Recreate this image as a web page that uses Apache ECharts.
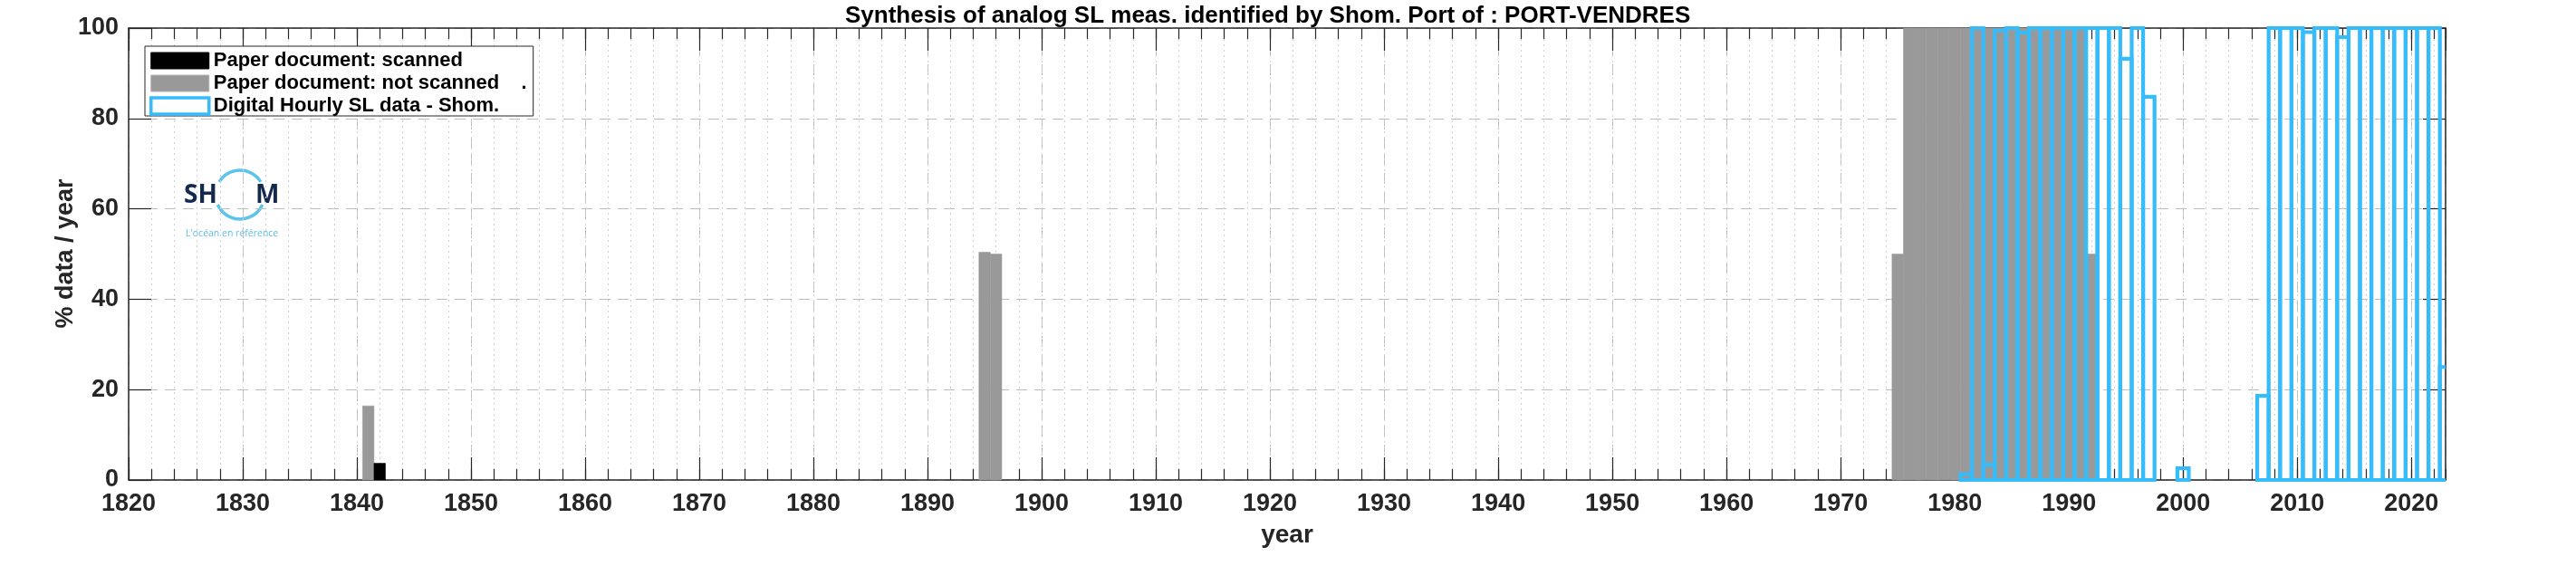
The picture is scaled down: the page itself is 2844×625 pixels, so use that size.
<!DOCTYPE html>
<html>
<head>
<meta charset="utf-8">
<script src="https://cdn.jsdelivr.net/npm/echarts@6/dist/echarts.min.js"></script>
<style>html,body{margin:0;padding:0;background:#fff}#c{width:2844px;height:625px}</style>
</head>
<body>
<div id="c"></div>
<script>
// ---------------- data ----------------
const titleText = 'Synthesis of analog SL meas. identified by Shom. Port of : PORT-VENDRES';
const xAxisName = 'year';
const yAxisName = '% data / year';
const xMin = 1820, xMax = 2023;
const yTicks = [0, 20, 40, 60, 80, 100];

const scannedYears  = [1842];
const scannedValues = [3.7];

const notScannedYears  = [1841, 1895, 1896, 1975, 1976, 1977, 1978, 1979, 1980, 1981, 1982, 1983,
                          1984, 1985, 1986, 1987, 1988, 1989, 1990, 1991, 1992];
const notScannedValues = [16.4, 50.4, 50, 50, 100, 100, 100, 100, 100, 100, 100, 100,
                          100, 100, 100, 100, 100, 100, 100, 100, 50];

const digitalYears  = [1981, 1982, 1983, 1984, 1985, 1986, 1987, 1988, 1989, 1990, 1991, 1992,
                       1993, 1994, 1995, 1996, 1997, 2000, 2007, 2008, 2009, 2010, 2011, 2012,
                       2013, 2014, 2015, 2016, 2017, 2018, 2019, 2020, 2021, 2022, 2023];
const digitalValues = [1.3, 100, 3.4, 99.5, 100, 99, 100, 100, 100, 100, 100, 100,
                       100, 100, 93.2, 100, 84.8, 2.6, 18.6, 100, 100, 100, 99.1, 100,
                       100, 98, 100, 100, 100, 100, 100, 100, 100, 100, 25];

const seriesNames = ['Paper document: scanned', 'Paper document: not scanned    .', 'Digital Hourly SL data - Shom.'];

// ---------------- styles ----------------
const FONT = '"Liberation Sans", Arial, Helvetica, sans-serif';
const AX = '#262626';
const BLUE = '#36bcfb';
const GRAY = '#999999';

function filledBar(fill) {
  return function (params, api) {
    const x = api.value(0), v = api.value(1);
    const a = api.coord([x - 0.5, v]);
    const b = api.coord([x + 0.5, 0]);
    return {
      type: 'rect',
      shape: { x: a[0], y: a[1], width: b[0] - a[0], height: b[1] - a[1] },
      style: { fill: fill, stroke: fill, lineWidth: 0.5 }
    };
  };
}

function outlineBar(params, api) {
  const x = api.value(0), v = api.value(1);
  const clipped = x + 0.5 > xMax;
  const a = api.coord([x - 0.5, v]);
  const b = api.coord([Math.min(x + 0.5, xMax), 0]);
  const pts = clipped
    ? [[b[0], a[1]], [a[0], a[1]], [a[0], b[1]], [b[0], b[1]]]
    : [[a[0], b[1]], [a[0], a[1]], [b[0], a[1]], [b[0], b[1]]];
  return {
    type: clipped ? 'polyline' : 'polygon',
    shape: { points: pts },
    style: { fill: 'none', stroke: BLUE, lineWidth: 4.2, lineJoin: 'miter' }
  };
}

// y tick labels, positioned through the y scale
function yTickLabel(params, api) {
  const p = api.coord([api.value(0), api.value(1)]);
  return {
    type: 'text', x: p[0] - 11, y: p[1],
    style: { text: String(api.value(1)), textAlign: 'right', textVerticalAlign: 'middle',
             font: 'bold 27px "Liberation Sans", Arial, sans-serif', fill: AX }
  };
}

const chart = echarts.init(document.getElementById('c'), null, { renderer: 'canvas' });

const baseX = { type: 'value', min: xMin, max: xMax, gridIndex: 0 };

const option = {
  animation: false,
  backgroundColor: '#fff',
  textStyle: { fontFamily: FONT },
  title: {
    text: titleText,
    left: 928, top: 0,
    textStyle: { fontFamily: FONT, fontSize: 26, fontWeight: 'bold', color: '#000' }
  },
  grid: { left: 142, right: 144, top: 31, bottom: 95, containLabel: false },
  legend: {
    orient: 'vertical', left: 160, top: 51,
    backgroundColor: '#fff', borderColor: AX, borderWidth: 1,
    padding: [5, 7, 0, 5],
    itemWidth: 64, itemHeight: 18, itemGap: 3,
    icon: 'rect',
    textStyle: { fontFamily: FONT, fontSize: 22, fontWeight: 'bold', color: '#000' },
    data: [
      { name: seriesNames[0], itemStyle: { color: '#000', borderColor: '#000', borderWidth: 1 } },
      { name: seriesNames[1], itemStyle: { color: GRAY, borderColor: '#b0b0b0', borderWidth: 1 } },
      { name: seriesNames[2], itemStyle: { color: '#fff', borderColor: BLUE, borderWidth: 3.5 } }
    ],
    z: 20
  },
  xAxis: [
    Object.assign({}, baseX, {
      position: 'bottom', interval: 10,
      axisLine: { show: true, onZero: false, lineStyle: { color: AX, width: 1.5 } },
      axisTick: { show: true, inside: true, length: 25, lineStyle: { color: AX, width: 1.2 } },
      axisLabel: { show: true, fontFamily: FONT, fontSize: 27, fontWeight: 'bold', color: AX, margin: 16,
                   lineHeight: 22,
                   formatter: v => (v % 10 === 0 ? String(v) : ''), showMaxLabel: false },
      splitLine: { show: true, lineStyle: { color: '#bdbdbd', width: 1, type: [12, 8] } }
    }),
    Object.assign({}, baseX, {
      position: 'bottom', interval: 2,
      axisLine: { show: false, onZero: false },
      axisTick: { show: true, inside: true, length: 12, lineStyle: { color: AX, width: 1.2 } },
      axisLabel: { show: false },
      splitLine: { show: true, lineStyle: { color: '#cfcfcf', width: 1, type: [2, 4] } }
    }),
    Object.assign({}, baseX, {
      position: 'top', interval: 10,
      axisLine: { show: true, onZero: false, lineStyle: { color: AX, width: 1.5 } },
      axisTick: { show: true, inside: true, length: 25, lineStyle: { color: AX, width: 1.2 } },
      axisLabel: { show: false },
      splitLine: { show: false }
    }),
    Object.assign({}, baseX, {
      position: 'top', interval: 2,
      axisLine: { show: false, onZero: false },
      axisTick: { show: true, inside: true, length: 12, lineStyle: { color: AX, width: 1.2 } },
      axisLabel: { show: false },
      splitLine: { show: false }
    })
  ],
  yAxis: [
    {
      type: 'value', min: yTicks[0], max: yTicks[yTicks.length - 1], interval: 20, position: 'left',
      axisLine: { show: true, onZero: false, lineStyle: { color: AX, width: 1.5 } },
      axisTick: { show: true, inside: true, length: 25, lineStyle: { color: AX, width: 1.2 } },
      axisLabel: { show: false },
      splitLine: { show: true, lineStyle: { color: '#bdbdbd', width: 1, type: [12, 8] } }
    },
    {
      type: 'value', min: yTicks[0], max: yTicks[yTicks.length - 1], interval: 20, position: 'right',
      axisLine: { show: true, onZero: false, lineStyle: { color: AX, width: 1.5 } },
      axisTick: { show: true, inside: true, length: 25, lineStyle: { color: AX, width: 1.2 } },
      axisLabel: { show: false },
      splitLine: { show: false }
    }
  ],
  series: [
    {
      name: seriesNames[1], type: 'custom', xAxisIndex: 0, yAxisIndex: 0,
      itemStyle: { color: GRAY },
      renderItem: filledBar(GRAY),
      encode: { x: 0, y: 1 },
      data: notScannedYears.map((y, i) => [y, notScannedValues[i]]),
      z: 3
    },
    {
      name: seriesNames[0], type: 'custom', xAxisIndex: 0, yAxisIndex: 0,
      itemStyle: { color: '#000' },
      renderItem: filledBar('#000'),
      encode: { x: 0, y: 1 },
      data: scannedYears.map((y, i) => [y, scannedValues[i]]),
      z: 3
    },
    {
      name: seriesNames[2], type: 'custom', xAxisIndex: 0, yAxisIndex: 0,
      itemStyle: { color: '#fff', borderColor: BLUE, borderWidth: 3.5 },
      renderItem: outlineBar,
      encode: { x: 0, y: 1 },
      data: digitalYears.map((y, i) => [y, digitalValues[i]]),
      z: 4
    },
    {
      name: 'yTickLabels', type: 'custom', xAxisIndex: 0, yAxisIndex: 0, silent: true,
      renderItem: yTickLabel,
      encode: { x: 0, y: 1 },
      data: yTicks.map(v => [xMin, v]),
      z: 5
    }
  ],
  graphic: [
    {
      type: 'text', z: 10, x: 73, y: 280, rotation: Math.PI / 2,
      style: { text: yAxisName, fill: AX, font: 'bold 27px "Liberation Sans", Arial, sans-serif',
               textAlign: 'center', textVerticalAlign: 'middle' }
    },
    {
      type: 'text', z: 10, x: 1421, y: 591,
      style: { text: xAxisName, fill: AX, font: 'bold 28px "Liberation Sans", Arial, sans-serif',
               textAlign: 'center', textVerticalAlign: 'middle' }
    },
    {
      type: 'group', z: 10,
      children: [
        { type: 'rect', shape: { x: 198, y: 168, width: 114, height: 112 }, style: { fill: '#fff' } },
        { type: 'arc', shape: { cx: 265, cy: 215, r: 27, startAngle: Math.PI + 0.55, endAngle: 2 * Math.PI - 0.55 },
          style: { stroke: '#5cc3ee', lineWidth: 3.5, fill: 'none' } },
        { type: 'arc', shape: { cx: 265, cy: 215, r: 27, startAngle: 0.42, endAngle: Math.PI - 0.42 },
          style: { stroke: '#5cc3ee', lineWidth: 3.5, fill: 'none' } },
        { type: 'text', style: { x: 203, y: 216, text: 'SH', fill: '#15294f', font: 'bold 28px "Open Sans", "Liberation Sans", sans-serif', textVerticalAlign: 'middle' } },
        { type: 'text', style: { x: 282, y: 216, text: 'M', fill: '#15294f', font: 'bold 28px "Open Sans", "Liberation Sans", sans-serif', textVerticalAlign: 'middle' } },
        { type: 'text', style: { x: 205, y: 258, text: "L'océan en référence", fill: '#5cbde8', font: '10.5px "Open Sans", "Liberation Sans", sans-serif', textVerticalAlign: 'middle' } }
      ]
    }
  ]
};

chart.setOption(option);
</script>
</body>
</html>
